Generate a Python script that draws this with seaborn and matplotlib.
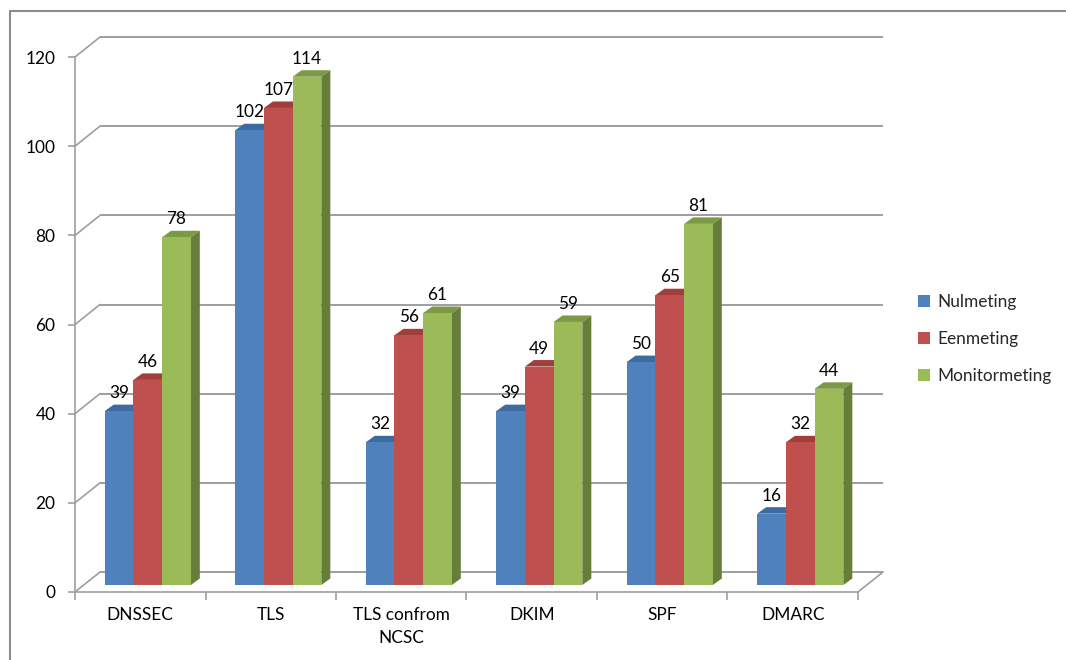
import numpy as np
import pandas as pd
import matplotlib
matplotlib.use("Agg")
import matplotlib.pyplot as plt
import matplotlib.transforms as mtransforms
from matplotlib.patches import Polygon
from matplotlib.lines import Line2D
from matplotlib.colors import to_hex
import seaborn as sns

# ---------------- data ----------------
categories = ["DNSSEC", "TLS", "TLS confrom\nNCSC", "DKIM", "SPF", "DMARC"]
series = ["Nulmeting", "Eenmeting", "Monitormeting"]
nulmeting = [39, 102, 32, 39, 50, 16]
eenmeting = [46, 107, 56, 49, 65, 32]
monitormeting = [78, 114, 61, 59, 81, 44]
yticks = [0, 20, 40, 60, 80, 100, 120]

colors_front = ["#4F81BD", "#C0504D", "#9BBB59"]
colors_top = ["#3F6AA0", "#A03E3B", "#7C9A46"]
colors_side = ["#36598A", "#893330", "#667E3A"]
grid_color = "#9E9E9E"

rows = []
for s, vals in zip(series, [nulmeting, eenmeting, monitormeting]):
    for c, v in zip(categories, vals):
        rows.append({"category": c, "series": s, "value": v})
df = pd.DataFrame(rows)

# ---------------- style ----------------
sns.set_theme(style="ticks")
plt.rcParams["font.family"] = ["Lato", "DejaVu Sans"]
FS = 12.4

W, H = 1066, 660
fig = plt.figure(figsize=(W / 100, H / 100), dpi=100)
fig.patch.set_facecolor("white")
ax_left, ax_right, ax_top, ax_bottom = 75, 858, 57, 592
ax = fig.add_axes([ax_left / W, (H - ax_bottom) / H,
                   (ax_right - ax_left) / W, (ax_bottom - ax_top) / H])
ax.set_facecolor("white")

sns.barplot(data=df, x="category", y="value", hue="series",
            order=categories, hue_order=series, palette=colors_front,
            width=0.66, saturation=1, errorbar=None, linewidth=0, ax=ax)

ax.set_xlim(-0.5, 5.5)
ax.set_ylim(0, 120)

px_x = (ax_right - ax_left) / 6.0      # pixels per category
px_y = (ax_bottom - ax_top) / 120.0    # pixels per unit

# back plane offset (pixels)
back_dx, back_dy = 25, 20
dxb, dyb = back_dx / px_x, back_dy / px_y

# bar placement offset (pixels) and depth
bar_off = mtransforms.ScaledTranslation(7.5 / 100, 7 / 100, fig.dpi_scale_trans)
tr = ax.transData + bar_off
ddx, ddy = 9 / px_x, 6.5 / px_y

bars = [p for p in ax.patches]
front_hex = [c.lower() for c in colors_front]
for p in bars:
    k = front_hex.index(to_hex(p.get_facecolor()).lower())
    x0, w, h = p.get_x(), p.get_width(), p.get_height()
    if h <= 0:
        continue
    p.set_transform(tr)
    p.set_clip_on(False)
    p.set_edgecolor("none")
    p.set_zorder(2.5 + k)
    top = Polygon([(x0, h), (x0 + w, h), (x0 + w + ddx, h + ddy), (x0 + ddx, h + ddy)],
                  closed=True, facecolor=colors_top[k], edgecolor="none",
                  transform=tr, zorder=2 + k, clip_on=False)
    side = Polygon([(x0 + w, 0), (x0 + w + ddx, ddy), (x0 + w + ddx, h + ddy), (x0 + w, h)],
                   closed=True, facecolor=colors_side[k], edgecolor="none",
                   transform=tr, zorder=2 + k, clip_on=False)
    ax.add_patch(top)
    ax.add_patch(side)
    ax.annotate(f"{int(round(h))}", xy=(x0 + w / 2, h), xytext=(7.5, 25),
                textcoords="offset pixels", ha="center", va="center",
                fontsize=FS, color="black", zorder=10, annotation_clip=False)

# back-wall gridlines and left-wall diagonals
for v in yticks:
    ax.plot([-0.5 + dxb, 5.5 + dxb], [v + dyb, v + dyb], color=grid_color,
            lw=1.4, clip_on=False, zorder=0.5, solid_capstyle="butt")
    ax.plot([-0.5, -0.5 + dxb], [v, v + dyb], color=grid_color,
            lw=1.2, clip_on=False, zorder=0.5)
ax.plot([5.5, 5.5 + dxb], [0, dyb], color=grid_color, lw=1.2,
        clip_on=False, zorder=0.5)

# spines and ticks
for s in ["top", "right"]:
    ax.spines[s].set_visible(False)
for s in ["left", "bottom"]:
    ax.spines[s].set_color(grid_color)
    ax.spines[s].set_linewidth(1.2)

ax.set_yticks(yticks)
ax.set_yticklabels([str(t) for t in yticks])
ax.set_xticks(range(len(categories)))
ax.set_xticklabels(categories, linespacing=1.55)
ax.set_xticks(np.arange(-0.5, 6, 1.0), minor=True)
ax.tick_params(axis="y", length=5, width=1.2, color=grid_color, pad=9,
               labelsize=FS, labelcolor="black", direction="out", left=True)
ax.tick_params(axis="x", which="major", length=0, pad=11, labelsize=FS,
               labelcolor="black", bottom=True)
ax.tick_params(axis="x", which="minor", length=6, width=1.2, color=grid_color,
               direction="out", bottom=True)
ax.set_xlabel("")
ax.set_ylabel("")
for lab in ax.get_xticklabels():
    lab.set_verticalalignment("top")

# legend
handles, labels = ax.get_legend_handles_labels()
ax.legend(handles, labels, loc="center left",
          bbox_to_anchor=(918 / W, 1 - 339 / H), bbox_transform=fig.transFigure,
          frameon=False, fontsize=FS, handlelength=0.72, handleheight=0.72,
          handletextpad=0.4, labelspacing=1.2, borderpad=0, borderaxespad=0)

# outer chart-area border (top and left edges visible)
fig.add_artist(Line2D([10 / W, 1], [1 - 11 / H, 1 - 11 / H], transform=fig.transFigure,
                      color="#8C8C8C", lw=1.5))
fig.add_artist(Line2D([10 / W, 10 / W], [0, 1 - 11 / H], transform=fig.transFigure,
                      color="#8C8C8C", lw=1.5))

fig.savefig("out.png", dpi=100)
